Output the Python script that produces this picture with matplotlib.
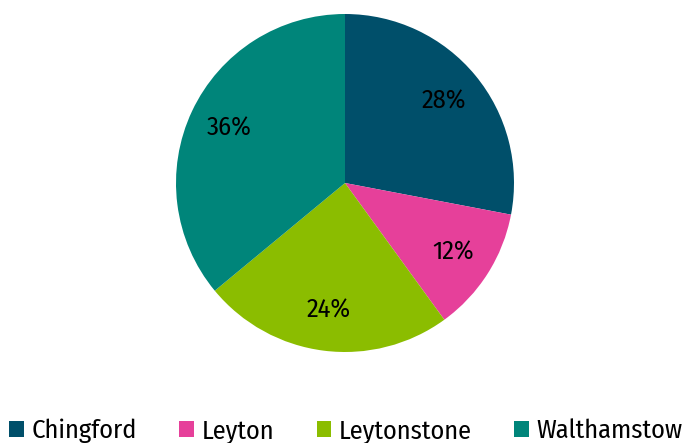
import matplotlib
matplotlib.use("Agg")
import matplotlib.pyplot as plt

# data
areas = ["Chingford", "Leyton", "Leytonstone", "Walthamstow"]
shares = [28, 12, 24, 36]
colors = ["#004F6A", "#E6409A", "#8BBD00", "#00857A"]

plt.rcParams['font.family'] = ['Fira Sans Condensed', 'PT Sans Narrow', 'DejaVu Sans']
plt.rcParams['font.weight'] = 'normal'

fig = plt.figure(figsize=(6.92, 4.43), dpi=100)
cx, cy, r = 345, 183, 169
ax = fig.add_axes([(cx - r) / 692, (443 - cy - r) / 443, 2 * r / 692, 2 * r / 443])

wedges, texts, autotexts = ax.pie(
    shares, colors=colors, startangle=90, counterclock=False,
    autopct='%d%%', pctdistance=0.76, radius=1.0,
    textprops={'fontsize': 19, 'color': 'black'})
ax.set_aspect('equal')
ax.set_xlim(-1, 1)
ax.set_ylim(-1, 1)

fig.legend(wedges, areas, loc='lower center', bbox_to_anchor=(0.5, -0.055),
           ncol=4, frameon=False, fontsize=19, handlelength=0.55,
           handleheight=0.55, handletextpad=0.3, columnspacing=1.6)

fig.savefig("out.png", dpi=100)
